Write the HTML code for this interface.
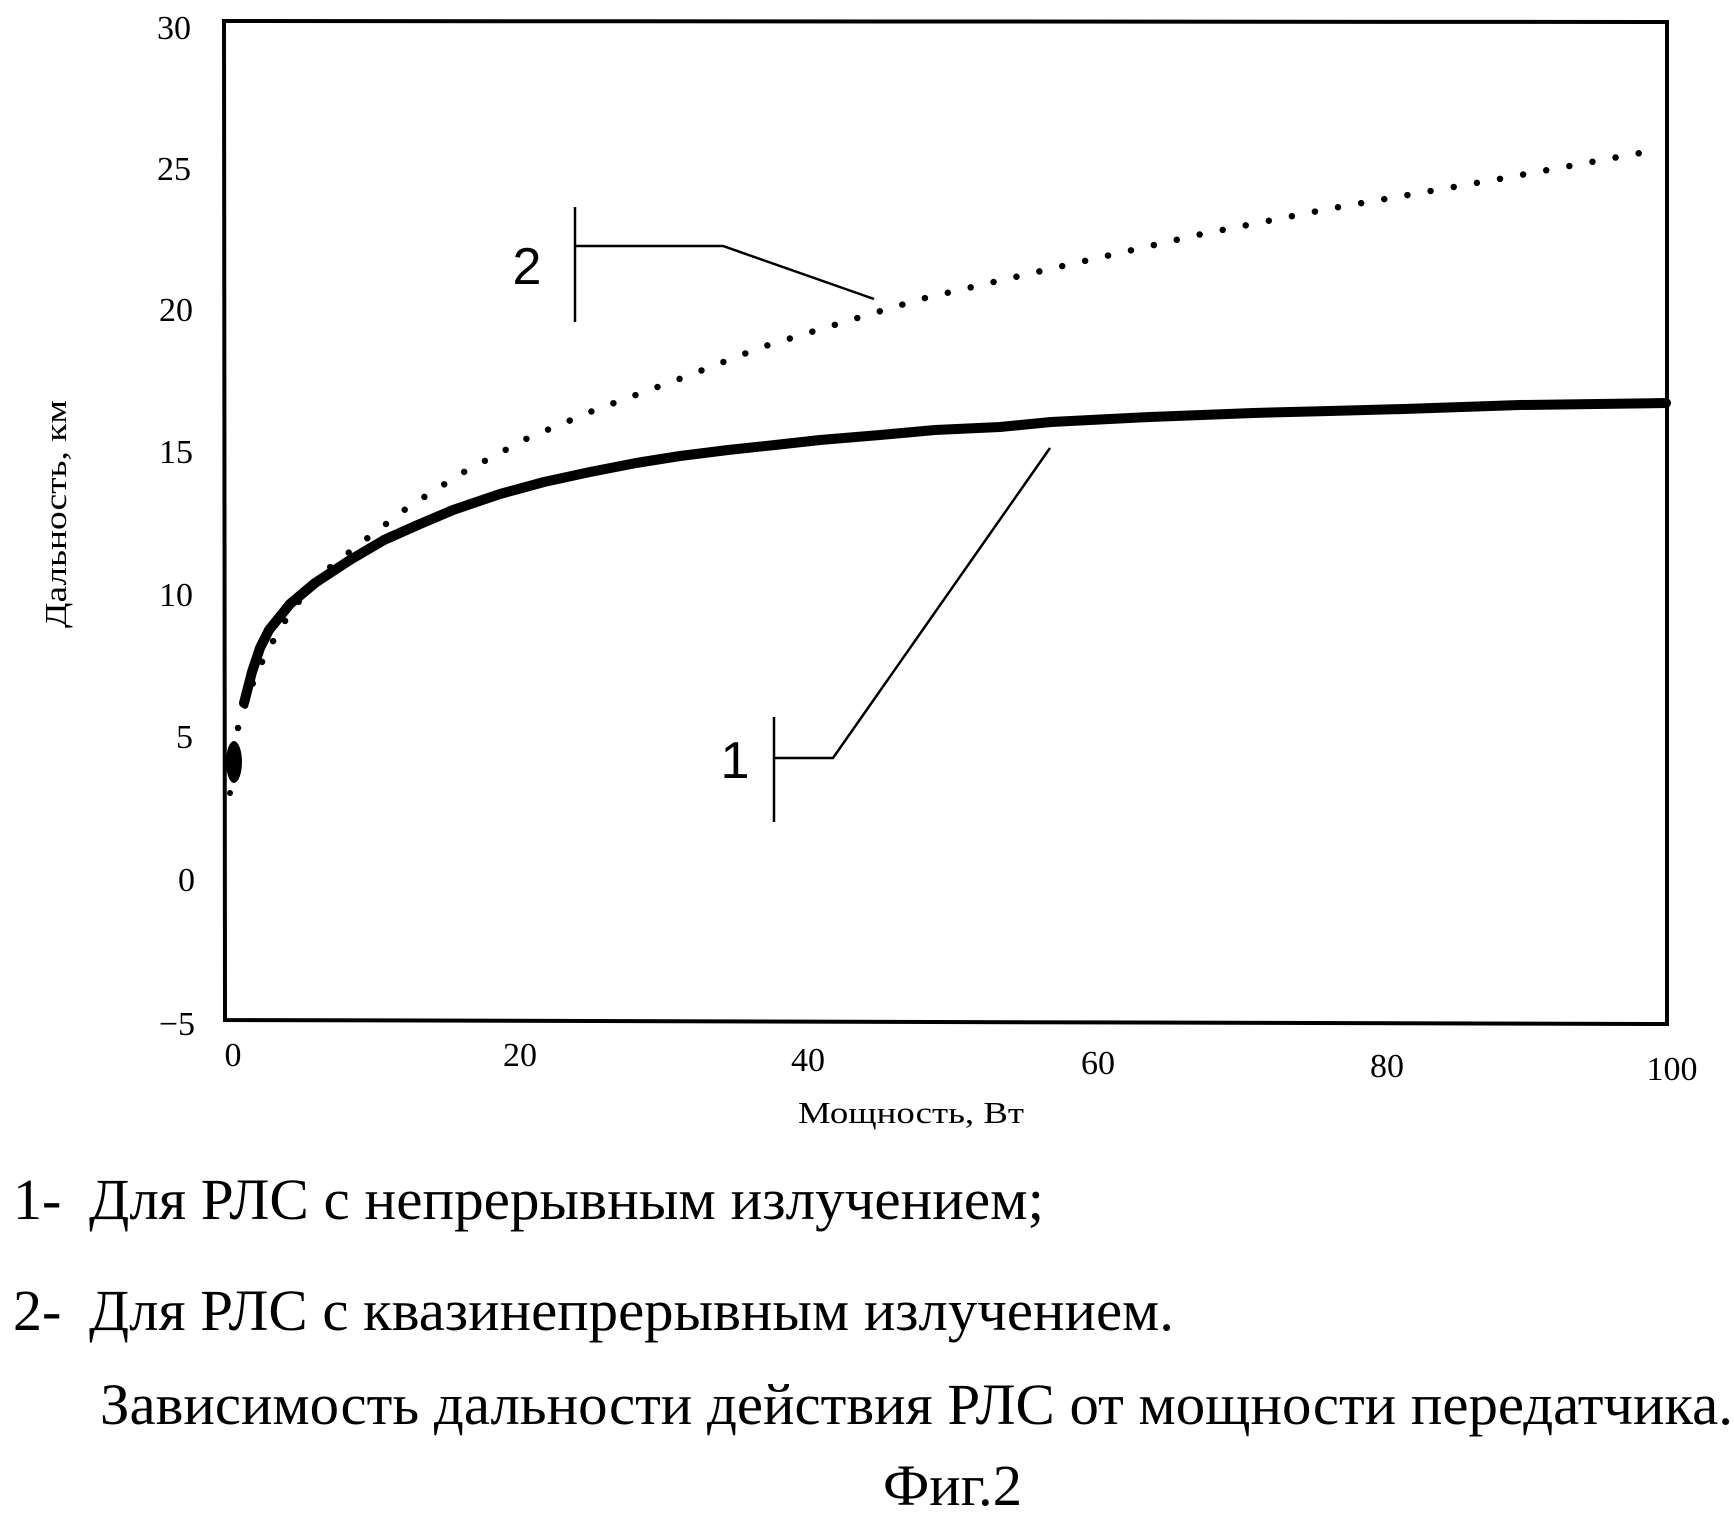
<!DOCTYPE html>
<html><head><meta charset="utf-8"><style>html,body{margin:0;padding:0;background:#fff}svg{display:block}</style></head>
<body>
<svg width="1734" height="1517" viewBox="0 0 1734 1517" xmlns="http://www.w3.org/2000/svg">
<g font-family="'Liberation Serif',serif" fill="#000">
<path d="M224,21 L1667,22 L1667,1024 L225,1020 Z" fill="none" stroke="#000" stroke-width="4"/>
<g font-size="34" text-anchor="end">
<text x="191" y="39">30</text>
<text x="191" y="180">25</text>
<text x="193" y="321">20</text>
<text x="193" y="463">15</text>
<text x="193" y="606">10</text>
<text x="193" y="748">5</text>
<text x="195" y="891">0</text>
<text x="195" y="1035">−5</text>
</g>
<g font-size="34" text-anchor="middle">
<text x="233" y="1066">0</text>
<text x="520" y="1066">20</text>
<text x="808" y="1071">40</text>
<text x="1098" y="1074">60</text>
<text x="1387" y="1077">80</text>
<text x="1672" y="1080">100</text>
</g>
<text x="911" y="1123" font-size="31" text-anchor="middle" textLength="226" lengthAdjust="spacingAndGlyphs">Мощность, Вт</text>
<text transform="translate(66,514) rotate(-90)" font-size="31" text-anchor="middle" textLength="228" lengthAdjust="spacingAndGlyphs">Дальность, км</text>

<polyline fill="none" stroke="#000" stroke-width="10" stroke-linejoin="round" stroke-linecap="round"
 points="244,703 252,672 260,648 269,630 290,604 315,583 350,560 384,540 420,524 453,510 500,494 544,482 590,472 636,463 680,456 728,450 775,445 820,440 880,435 935,430 1000,427 1051,422 1150,417 1253,413 1330,411 1404,409 1520,405 1666,403"/>
<ellipse cx="234" cy="762" rx="8" ry="21" fill="#000"/>
<circle cx="230" cy="793" r="3"/>

<polyline fill="none" stroke="#000" stroke-width="6.5" stroke-linecap="round" stroke-dasharray="0 23.5"
 points="238,728 250,690 262,662 280,628 300,600 324,572 361,543 407,508 462,473 528,438 595,410 682,378 762,347 854,319 921,299 1028,274 1202,234 1328,209 1499,179 1651,151"/>

<g stroke="#000" stroke-width="2.5" fill="none">
<line x1="575" y1="207" x2="575" y2="322"/>
<polyline points="575,246 723,246 874,299"/>
<line x1="774" y1="717" x2="774" y2="822"/>
<polyline points="774,758 833,758 1050,448"/>
</g>
<text x="527" y="284" font-family="'Liberation Sans',sans-serif" font-size="52" text-anchor="middle">2</text>
<text x="735" y="778" font-family="'Liberation Sans',sans-serif" font-size="52" text-anchor="middle">1</text>

<g font-size="58">
<text x="13" y="1219">1-</text>
<text x="89" y="1219" textLength="955" lengthAdjust="spacingAndGlyphs">Для РЛС с непрерывным излучением;</text>
<text x="13" y="1330">2-</text>
<text x="89" y="1330" textLength="1085" lengthAdjust="spacingAndGlyphs">Для РЛС с квазинепрерывным излучением.</text>
<text x="100" y="1424" textLength="1633" lengthAdjust="spacingAndGlyphs">Зависимость дальности действия РЛС от мощности передатчика.</text>
<text x="883" y="1505" textLength="139" lengthAdjust="spacingAndGlyphs">Фиг.2</text>
</g>
</g>
</svg>
</body></html>
